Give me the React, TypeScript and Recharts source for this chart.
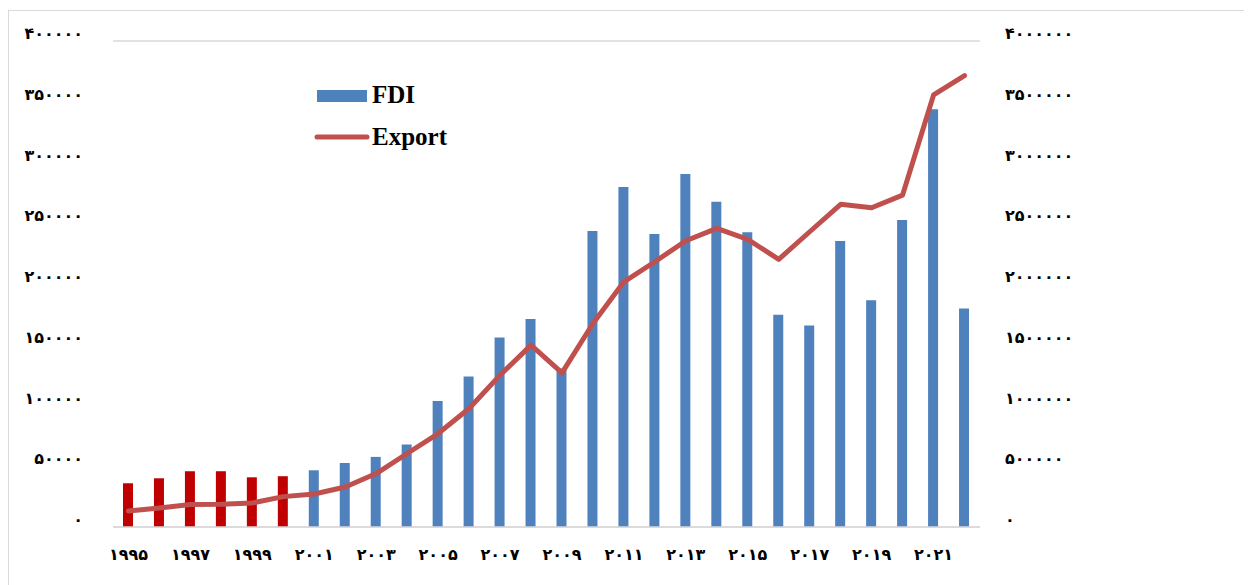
import React from "react";
import { ComposedChart, Bar, Line, XAxis, YAxis, CartesianGrid, Cell } from "recharts";

const years: string[] = [
  "1995", "1996", "1997", "1998", "1999", "2000", "2001", "2002", "2003", "2004",
  "2005", "2006", "2007", "2008", "2009", "2010", "2011", "2012", "2013", "2014",
  "2015", "2016", "2017", "2018", "2019", "2020", "2021", "2022",
];
const fdiValues: number[] = [
  36000, 40100, 45900, 45900, 40900, 41800, 46700, 52700, 57700, 67900,
  103800, 123900, 156000, 171100, 130500, 243600, 279800, 241100, 290500, 267700,
  242500, 174600, 165900, 235300, 186700, 252600, 343800, 179900,
];
const exportValues: number[] = [
  132000, 156500, 184500, 187000, 198000, 250000, 272000, 329500, 440000, 605000,
  769000, 975000, 1250000, 1497000, 1269000, 1675000, 2018000, 2183000, 2356000, 2458000,
  2367000, 2203000, 2430000, 2656000, 2628000, 2732000, 3556000, 3715000,
];
const earlyYears: string[] = ["1995", "1996", "1997", "1998", "1999", "2000"];
const leftTicks: number[] = [0, 50000, 100000, 150000, 200000, 250000, 300000, 350000, 400000];
const rightTicks: number[] = [0, 500000, 1000000, 1500000, 2000000, 2500000, 3000000, 3500000, 4000000];

const data = years.map((y, i) => ({ year: y, FDI: fdiValues[i], Export: exportValues[i] }));

const faDigits = "۰۱۲۳۴۵۶۷۸۹";
const toFa = (v: any) => String(v).replace(/\d/g, (d) => faDigits[Number(d)]);

const tickFont = { fontFamily: "'DejaVu Sans', sans-serif", fontWeight: 700, fontSize: 16, fill: "#000" };

const YTick = (props: any) => {
  const { x, y, payload, textAnchor } = props;
  return (
    <text x={x} y={y - 2} textAnchor={textAnchor} style={tickFont}>
      {toFa(payload.value)}
    </text>
  );
};

const XTick = (props: any) => {
  const { x, y, payload } = props;
  return (
    <text x={x} y={y + 33} textAnchor="middle" style={tickFont}>
      {toFa(payload.value)}
    </text>
  );
};

export default function App() {
  return (
    <div
      style={{
        position: "relative",
        width: 1243,
        height: 574,
        marginTop: 2,
        borderTop: "1px solid #d9d9d9",
        borderLeft: "1px solid #d9d9d9",
        background: "#fff",
      }}
    >
      <ComposedChart
        width={1243}
        height={574}
        data={data}
        margin={{ top: 30, right: 152, bottom: 18, left: 0 }}
      >
        <CartesianGrid vertical={false} stroke="#d9d9d9" strokeWidth={1.5} />
        <XAxis
          dataKey="year"
          interval={1}
          tickSize={0}
          tickMargin={0}
          height={40}
          axisLine={{ stroke: "#d9d9d9", strokeWidth: 1.5 }}
          tickLine={false}
          tick={<XTick />}
        />
        <YAxis
          yAxisId="left"
          orientation="left"
          width={104}
          domain={[0, 400000]}
          ticks={leftTicks}
          interval={0}
          tickSize={0}
          tickMargin={30}
          axisLine={false}
          tickLine={false}
          tick={<YTick />}
        />
        <YAxis
          yAxisId="right"
          orientation="right"
          width={120}
          domain={[0, 4000000]}
          ticks={rightTicks}
          interval={0}
          tickSize={0}
          tickMargin={25}
          axisLine={false}
          tickLine={false}
          tick={<YTick />}
        />
        <Bar yAxisId="left" dataKey="FDI" barSize={10} fill="#4F81BD" isAnimationActive={false}>
          {data.map((d) => (
            <Cell key={d.year} fill={earlyYears.includes(d.year) ? "#C00000" : "#4F81BD"} />
          ))}
        </Bar>
        <Line
          yAxisId="right"
          dataKey="Export"
          type="linear"
          stroke="#C0504D"
          strokeWidth={5}
          strokeLinejoin="round"
          strokeLinecap="round"
          dot={false}
          activeDot={false}
          isAnimationActive={false}
        />
      </ComposedChart>
      <svg
        width={200}
        height={80}
        style={{ position: "absolute", left: 300, top: 70 }}
      >
        <rect x={8} y={9} width={50} height={12} fill="#4F81BD" />
        <text x={63} y={22} style={{ fontFamily: "'Liberation Serif', serif", fontWeight: 700, fontSize: 25 }}>
          FDI
        </text>
        <line x1={8} y1={56} x2={58} y2={56} stroke="#C0504D" strokeWidth={5} strokeLinecap="round" />
        <text x={63} y={64} style={{ fontFamily: "'Liberation Serif', serif", fontWeight: 700, fontSize: 25 }}>
          Export
        </text>
      </svg>
    </div>
  );
}
